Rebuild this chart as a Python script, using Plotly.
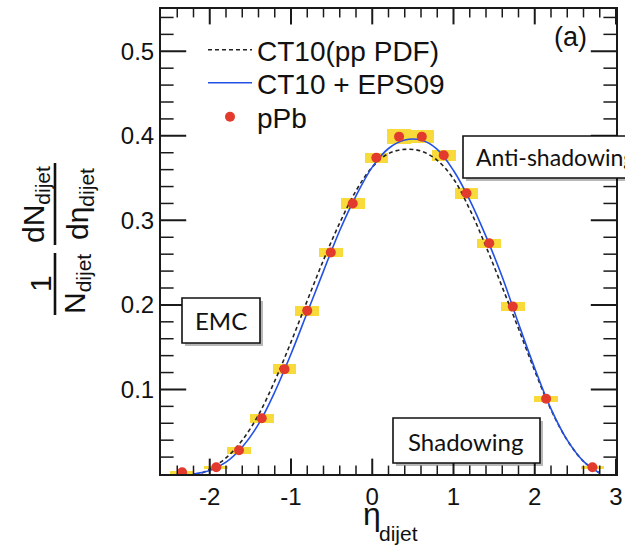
import plotly.graph_objects as go

# ---------------- data ----------------
eta_pts = [-2.34, -1.92, -1.64, -1.36, -1.08, -0.80, -0.51, -0.24, 0.05,
           0.33, 0.61, 0.88, 1.16, 1.44, 1.73, 2.14, 2.71]
ppb_vals = [0.002, 0.008, 0.028, 0.066, 0.124, 0.193, 0.262, 0.320, 0.374,
            0.399, 0.399, 0.377, 0.332, 0.273, 0.198, 0.089, 0.008]
ppb_syst = [0.002, 0.002, 0.004, 0.0055, 0.006, 0.006, 0.0055, 0.006, 0.006,
            0.009, 0.008, 0.0065, 0.0063, 0.0053, 0.0053, 0.0035, 0.002]
syst_width = 0.29

eps_eta = [-2.2, -2.0, -1.8, -1.6, -1.4, -1.2, -1.0, -0.8, -0.6, -0.4, -0.2, 0.0,
           0.2, 0.4, 0.6, 0.8, 1.0, 1.2, 1.4, 1.6, 1.8, 2.0, 2.2, 2.4, 2.6, 2.8]
eps_vals = [0.0, 0.004, 0.014, 0.032, 0.059, 0.097, 0.142, 0.191, 0.240, 0.288,
            0.329, 0.363, 0.385, 0.395, 0.395, 0.384, 0.359, 0.324, 0.281, 0.233,
            0.178, 0.125, 0.077, 0.040, 0.015, 0.001]

ct10_eta = [-2.1, -2.0, -1.8, -1.6, -1.4, -1.2, -1.0, -0.8, -0.6, -0.4, -0.2, 0.0,
            0.2, 0.4, 0.6, 0.8, 1.0, 1.2, 1.4, 1.6, 1.8, 2.0, 2.2, 2.4, 2.6, 2.8]
ct10_vals = [0.001, 0.006, 0.019, 0.040, 0.070, 0.110, 0.156, 0.205, 0.253, 0.297,
             0.335, 0.363, 0.379, 0.384, 0.382, 0.371, 0.349, 0.313, 0.269, 0.221,
             0.172, 0.122, 0.076, 0.040, 0.015, 0.001]

x_tickvals = [-2, -1, 0, 1, 2, 3]
x_ticktext = ["-2", "-1", "0", "1", "2", "3"]
y_tickvals = [0.1, 0.2, 0.3, 0.4, 0.5]
y_ticktext = ["0.1", "0.2", "0.3", "0.4", "0.5"]
x_minorvals = [-2.4, -2.2, -1.8, -1.6, -1.4, -1.2, -0.8, -0.6, -0.4, -0.2,
               0.2, 0.4, 0.6, 0.8, 1.2, 1.4, 1.6, 1.8, 2.2, 2.4, 2.6, 2.8]
y_minorvals = [0.02, 0.04, 0.06, 0.08, 0.12, 0.14, 0.16, 0.18, 0.22, 0.24,
               0.26, 0.28, 0.32, 0.34, 0.36, 0.38, 0.42, 0.44, 0.46, 0.48,
               0.52, 0.54]
x_range = [-2.6, 3.0]
y_range = [0.0, 0.55]

# ---------------- layout geometry helpers ----------------
L, R, T, B = 161, 616, 9, 474
W, H = R - L, B - T


def px(x):
    return (x - L) / W


def py(y):
    return (B - y) / H


FONT = "Liberation Sans, Arial, sans-serif"
BOXFONT = "Lato, Open Sans, sans-serif"
INK = "#1a1a1a"

fig = go.Figure()

fig.add_trace(go.Bar(
    x=eta_pts, y=[2 * s for s in ppb_syst],
    base=[v - s for v, s in zip(ppb_vals, ppb_syst)],
    width=syst_width, marker=dict(color="#F8DA3A", line=dict(width=0)),
    showlegend=False, hoverinfo="skip"))

fig.add_trace(go.Scatter(
    x=ct10_eta, y=ct10_vals, mode="lines", name="CT10(pp PDF)",
    line=dict(color="#222222", width=1.6, dash="4px,3px", shape="spline"),
    legend="legend"))

fig.add_trace(go.Scatter(
    x=eps_eta, y=eps_vals, mode="lines", name="CT10 + EPS09",
    line=dict(color="#2350E6", width=1.6, shape="spline"),
    legend="legend2"))

fig.add_trace(go.Scatter(
    x=eta_pts, y=ppb_vals, mode="markers", name="pPb",
    marker=dict(color="#E23A2C", size=10, line=dict(width=0)),
    legend="legend3"))

# inside tick marks on all four sides: line markers centred on the frame,
# clipped by the plot area so only the inner half shows
for xv, xl, yv, yl, wd in ((x_tickvals, 11, y_tickvals, 18, 2.0),
                           (x_minorvals, 6, y_minorvals, 9, 1.5)):
    fig.add_trace(go.Scatter(
        x=xv + xv, y=[y_range[0]] * len(xv) + [y_range[1]] * len(xv),
        mode="markers", showlegend=False, hoverinfo="skip", cliponaxis=True,
        marker=dict(symbol="line-ns-open", size=2 * xl, color=INK,
                    line=dict(color=INK, width=wd))))
    fig.add_trace(go.Scatter(
        x=[x_range[0]] * len(yv) + [x_range[1]] * len(yv), y=yv + yv,
        mode="markers", showlegend=False, hoverinfo="skip", cliponaxis=True,
        marker=dict(symbol="line-ew-open", size=2 * yl, color=INK,
                    line=dict(color=INK, width=wd))))

fig.update_xaxes(
    range=x_range, tickmode="array", tickvals=x_tickvals, ticktext=x_ticktext,
    showline=True, linecolor=INK, linewidth=2, mirror=True, ticks="",
    showgrid=False, zeroline=False,
    tickfont=dict(family=FONT, size=24, color="#111111"))

fig.update_yaxes(
    range=y_range, tickmode="array", tickvals=y_tickvals, ticktext=y_ticktext,
    showline=True, linecolor=INK, linewidth=2, mirror=True, ticks="",
    showgrid=False, zeroline=False,
    tickfont=dict(family=FONT, size=24, color="#111111"))

shapes = []
annotations = []

# fraction bars of the y title
shapes.append(dict(type="line", xref="paper", yref="paper",
                   x0=px(55), x1=px(55), y0=py(163), y1=py(245),
                   line=dict(color="#111111", width=2.6)))
shapes.append(dict(type="line", xref="paper", yref="paper",
                   x0=px(55), x1=px(55), y0=py(253), y1=py(315),
                   line=dict(color="#111111", width=2.6)))


def ylab(text, xc, yc):
    annotations.append(dict(text=text, xref="paper", yref="paper",
                            x=px(xc), y=py(yc), xanchor="center",
                            yanchor="middle", textangle=-90, showarrow=False,
                            font=dict(family=FONT, size=30, color="#111111")))


ylab("dN<sub>dijet</sub>", 36, 204)
ylab("dη<sub>dijet</sub>", 80, 204)
ylab("1", 41, 284)
ylab("N<sub>dijet</sub>", 77, 284)


def txt(text, x, y, size, anchor="center"):
    annotations.append(dict(text=text, xref="paper", yref="paper",
                            x=px(x), y=py(y), xanchor=anchor, yanchor="middle",
                            showarrow=False,
                            font=dict(family=FONT, size=size, color="#111111")))


# x title (symbol and lowered subscript)
txt("η", 372, 514, 32)
txt("dijet", 398, 533, 21)

# panel label
txt("(a)", 570, 37, 27)


def box(x0, y0, x1, y1, text, tx, ty, anchor="center", size=24):
    shapes.append(dict(type="rect", xref="paper", yref="paper", layer="above",
                       x0=px(x0 + 3), x1=px(x1 + 3), y0=py(y0 + 3), y1=py(y1 + 3),
                       fillcolor="rgba(0,0,0,0.28)", line=dict(width=0)))
    shapes.append(dict(type="rect", xref="paper", yref="paper", layer="above",
                       x0=px(x0), x1=px(x1), y0=py(y0), y1=py(y1),
                       fillcolor="white", line=dict(color="#111111", width=1.6)))
    annotations.append(dict(text=text, xref="paper", yref="paper",
                            x=px(tx), y=py(ty), xanchor=anchor, yanchor="middle",
                            showarrow=False,
                            font=dict(family=BOXFONT, size=size, color="#111111")))


box(182, 298, 260, 343, "EMC", 221, 320)
box(393, 418, 540, 463, "Shadowing", 466, 441)
box(463, 136, 650, 178, "Anti-shadowing", 474, 157, anchor="left", size=23)


def leg(row_y):
    return dict(x=px(203), y=py(row_y), xanchor="left", yanchor="middle",
                bgcolor="rgba(0,0,0,0)", borderwidth=0,
                font=dict(family=FONT, size=28, color="#111111"),
                itemwidth=44)


fig.update_layout(
    template="none",
    width=625, height=552,
    margin=dict(l=L, r=625 - R, t=T, b=552 - B, pad=0),
    paper_bgcolor="white", plot_bgcolor="white",
    barmode="overlay", bargap=0,
    showlegend=True,
    legend=leg(50), legend2=leg(83), legend3=leg(117),
    shapes=shapes, annotations=annotations,
)

fig.write_html("out.html")
